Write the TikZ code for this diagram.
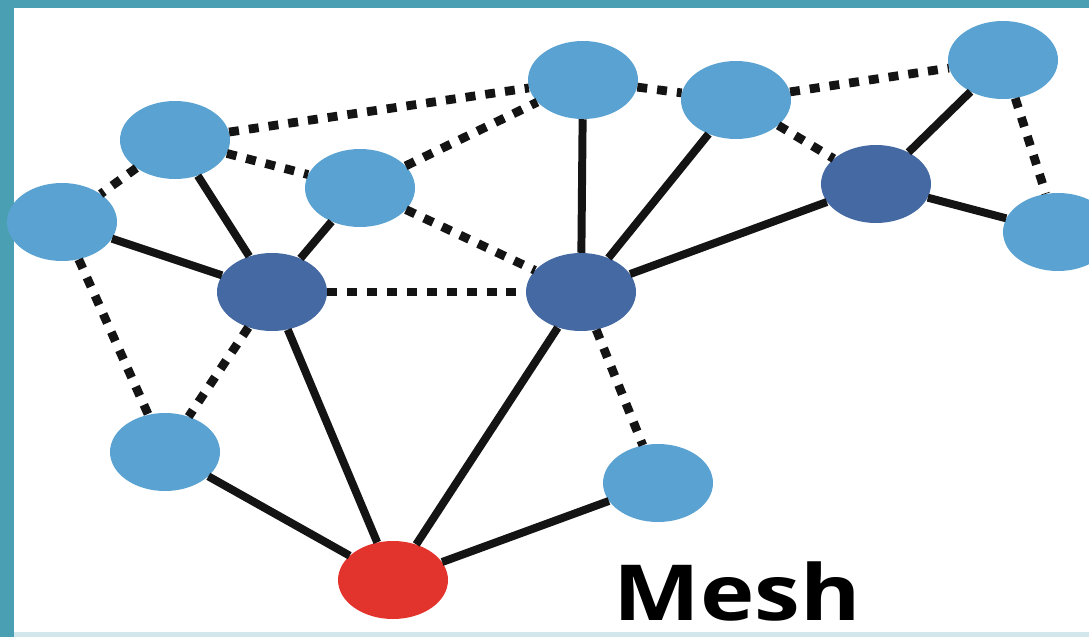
\documentclass[tikz,border=0pt]{standalone}
\usepackage{fontspec}
\setmainfont{Open Sans}
\usetikzlibrary{shapes.geometric}

\definecolor{lightnode}{HTML}{5AA2D2}
\definecolor{darknode}{HTML}{4569A3}
\definecolor{rootnode}{HTML}{E2332C}
\definecolor{frameteal}{HTML}{4AA0B2}

\tikzset{
    meshnode/.style={ellipse, minimum width=3.3cm, minimum height=2.34cm, inner sep=0pt},
    leaf/.style={meshnode, fill=lightnode},
    hub/.style={meshnode, fill=darknode},
    root/.style={meshnode, fill=rootnode},
    wired/.style={line width=6.8pt, black!92},
    wireless/.style={line width=7.5pt, black!92, dash pattern=on 8.5pt off 8.5pt}
}

\begin{document}
\begin{tikzpicture}[x=0.03cm, y=-0.03cm]
    \useasboundingbox (0,0) rectangle (1089,637);
    % Frame
    \fill[white] (0,0) rectangle (1089,637);
    \fill[frameteal] (0,0) rectangle (14,637);
    \fill[frameteal] (0,0) rectangle (1089,8);
    \fill[frameteal!25] (14,632) rectangle (1089,637);
    % Nodes
    \node[leaf] (a) at (175,140) {};
    \node[leaf] (b) at (62,222) {};
    \node[leaf] (c) at (360,188) {};
    \node[leaf] (d) at (583,80) {};
    \node[leaf] (e) at (736,100) {};
    \node[leaf] (f) at (1003,60) {};
    \node[leaf] (g) at (1058,232) {};
    \node[leaf] (h) at (165,452) {};
    \node[leaf] (i) at (658,483) {};
    \node[hub] (j) at (272,292) {};
    \node[hub] (k) at (581,292) {};
    \node[hub] (l) at (876,184) {};
    \node[root] (r) at (393,580) {};
    % Wired links
    \foreach \u/\v in {a/j, b/j, c/j, j/r, h/r, k/r, i/r, k/d, k/e, k/l, l/f, l/g}
        \draw[wired] (\u) -- (\v);
    % Wireless links
    \foreach \u/\v in {a/d, a/b, a/c, c/d, c/k, j/k, b/h, j/h, k/i, d/e, e/l, e/f, f/g}
        \draw[wireless] (\u) -- (\v);
    % Label
    \node[font=\bfseries\fontsize{66}{66}\selectfont, xscale=1.19, anchor=base west, inner sep=0pt] (title) at (613,620) {Mesh};
\end{tikzpicture}
\end{document}
